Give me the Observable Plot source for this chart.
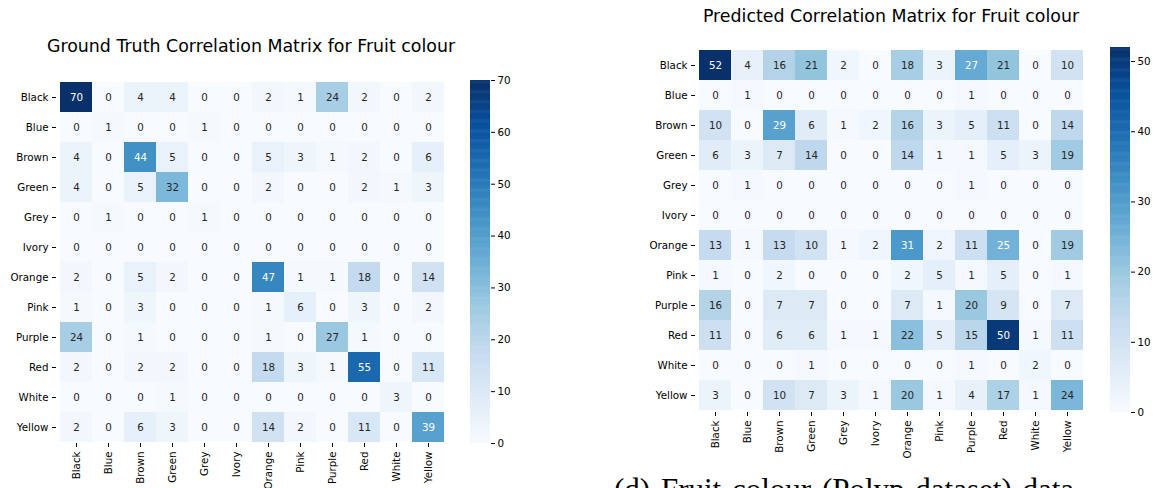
<!DOCTYPE html>
<html>
<head>
<meta charset="utf-8">
<script src="https://cdn.jsdelivr.net/npm/d3@7"></script>
<script src="https://cdn.jsdelivr.net/npm/@observablehq/plot@0.6"></script>
<style>
  html, body { margin: 0; padding: 0; background: white; }
  body { width: 1157px; height: 488px; position: relative; overflow: hidden; font-family: "DejaVu Sans", sans-serif; }
  .abs { position: absolute; }
  .title { font-size: 17.4px; line-height: 17.4px; color: #000; white-space: nowrap; transform: translateX(-50%); }
  .caption { font-family: "Liberation Serif", "DejaVu Serif", serif; font-size: 31px; line-height: 31px; white-space: nowrap; color: #000; word-spacing: 3px; }
</style>
</head>
<body>
<div id="t1" class="abs title" style="left:251px; top:38px;">Ground Truth Correlation Matrix for Fruit colour</div>
<div id="t2" class="abs title" style="left:891px; top:8px;">Predicted Correlation Matrix for Fruit colour</div>
<div id="hm1" class="abs" style="left:0px; top:0px;"></div>
<div id="cb1" class="abs" style="left:470px; top:80px;"></div>
<div id="hm2" class="abs" style="left:640px; top:0px;"></div>
<div id="cb2" class="abs" style="left:1110px; top:47px;"></div>
<div id="cap" class="abs caption" style="left:614px; top:474px;">(d) Fruit colour (Polyp dataset) data</div>
<script>
// ---- data ----
const categories = ["Black","Blue","Brown","Green","Grey","Ivory","Orange","Pink","Purple","Red","White","Yellow"];

const groundTruth = [
  [70, 0, 4, 4, 0, 0, 2, 1, 24, 2, 0, 2],
  [0, 1, 0, 0, 1, 0, 0, 0, 0, 0, 0, 0],
  [4, 0, 44, 5, 0, 0, 5, 3, 1, 2, 0, 6],
  [4, 0, 5, 32, 0, 0, 2, 0, 0, 2, 1, 3],
  [0, 1, 0, 0, 1, 0, 0, 0, 0, 0, 0, 0],
  [0, 0, 0, 0, 0, 0, 0, 0, 0, 0, 0, 0],
  [2, 0, 5, 2, 0, 0, 47, 1, 1, 18, 0, 14],
  [1, 0, 3, 0, 0, 0, 1, 6, 0, 3, 0, 2],
  [24, 0, 1, 0, 0, 0, 1, 0, 27, 1, 0, 0],
  [2, 0, 2, 2, 0, 0, 18, 3, 1, 55, 0, 11],
  [0, 0, 0, 1, 0, 0, 0, 0, 0, 0, 3, 0],
  [2, 0, 6, 3, 0, 0, 14, 2, 0, 11, 0, 39]
];

const predicted = [
  [52, 4, 16, 21, 2, 0, 18, 3, 27, 21, 0, 10],
  [0, 1, 0, 0, 0, 0, 0, 0, 1, 0, 0, 0],
  [10, 0, 29, 6, 1, 2, 16, 3, 5, 11, 0, 14],
  [6, 3, 7, 14, 0, 0, 14, 1, 1, 5, 3, 19],
  [0, 1, 0, 0, 0, 0, 0, 0, 1, 0, 0, 0],
  [0, 0, 0, 0, 0, 0, 0, 0, 0, 0, 0, 0],
  [13, 1, 13, 10, 1, 2, 31, 2, 11, 25, 0, 19],
  [1, 0, 2, 0, 0, 0, 2, 5, 1, 5, 0, 1],
  [16, 0, 7, 7, 0, 0, 7, 1, 20, 9, 0, 7],
  [11, 0, 6, 6, 1, 1, 22, 5, 15, 50, 1, 11],
  [0, 0, 0, 1, 0, 0, 0, 0, 1, 0, 2, 0],
  [3, 0, 10, 7, 3, 1, 20, 1, 4, 17, 1, 24]
];

const gtMax = 70;
const predMax = 52;
const gtTicks = [0, 10, 20, 30, 40, 50, 60, 70];
const predTicks = [0, 10, 20, 30, 40, 50];

// matplotlib "Blues" colormap anchors
const blues = ["#f7fbff","#deebf7","#c6dbef","#9ecae1","#6baed6","#4292c6","#2171b5","#08519c","#08306b"];

// ---- helpers ----
function colorOpts(max) {
  return { type: "linear", domain: blues.map((_, i) => i * max / (blues.length - 1)), range: blues, interpolate: "rgb" };
}
function luminance(c) {
  const rgb = d3.rgb(c);
  const f = v => { v /= 255; return v <= 0.03928 ? v / 12.92 : Math.pow((v + 0.055) / 1.055, 2.4); };
  return 0.2126 * f(rgb.r) + 0.7152 * f(rgb.g) + 0.0722 * f(rgb.b);
}
function toTable(matrix) {
  const out = [];
  matrix.forEach((row, i) => row.forEach((v, j) => out.push({ actual: categories[i], pred: categories[j], value: v })));
  return out;
}
const FONT = "DejaVu Sans";
const baseStyle = { fontFamily: FONT, fontSize: "10.3px", color: "#000", background: "transparent", overflow: "visible", maxWidth: "none" };

function heatmap(matrix, max, m) {
  const data = toTable(matrix);
  const co = colorOpts(max);
  const cs = d3.scaleLinear().domain(co.domain).range(co.range).interpolate(d3.interpolateRgb);
  const isDark = d => luminance(cs(d.value)) <= 0.408;
  return Plot.plot({
    width: m.left + m.w + m.right,
    height: m.top + m.h + m.bottom,
    marginLeft: m.left, marginRight: m.right, marginTop: m.top, marginBottom: m.bottom,
    style: baseStyle,
    x: { domain: categories, padding: 0, tickRotate: -90, tickSize: 4, tickPadding: 4, label: null },
    y: { domain: categories, padding: 0, tickSize: 4, tickPadding: 4, label: null },
    color: co,
    marks: [
      Plot.cell(data, { x: "pred", y: "actual", fill: "value", inset: 0 }),
      Plot.text(data.filter(d => !isDark(d)), { x: "pred", y: "actual", text: d => String(d.value), fill: "#262626", fontSize: 10.3 }),
      Plot.text(data.filter(isDark), { x: "pred", y: "actual", text: d => String(d.value), fill: "white", fontSize: 10.3 })
    ]
  });
}

function colorbar(max, ticks, h) {
  const step = max / 400;
  const steps = d3.range(0, max, step);
  return Plot.plot({
    width: 20 + 40, height: h,
    marginLeft: 0, marginRight: 40, marginTop: 0, marginBottom: 0,
    style: baseStyle,
    x: { axis: null, domain: [0, 1] },
    y: { domain: [0, max], axis: "right", ticks: ticks, tickSize: 4, tickPadding: 3, label: null, tickFormat: d => String(d) },
    color: colorOpts(max),
    marks: [
      Plot.rect(steps, { x1: () => 0, x2: () => 1, y1: d => d, y2: d => Math.min(max, d + step * 1.6), fill: d => d + step / 2 })
    ]
  });
}

document.getElementById("hm1").append(heatmap(groundTruth, gtMax, { left: 56, right: 0, top: 80, bottom: 45, w: 391, h: 363 }));
document.getElementById("cb1").append(colorbar(gtMax, gtTicks, 363));
document.getElementById("hm2").append(heatmap(predicted, predMax, { left: 55, right: 0, top: 47, bottom: 76, w: 391, h: 365 }));
document.getElementById("cb2").append(colorbar(predMax, predTicks, 365));
</script>
</body>
</html>
